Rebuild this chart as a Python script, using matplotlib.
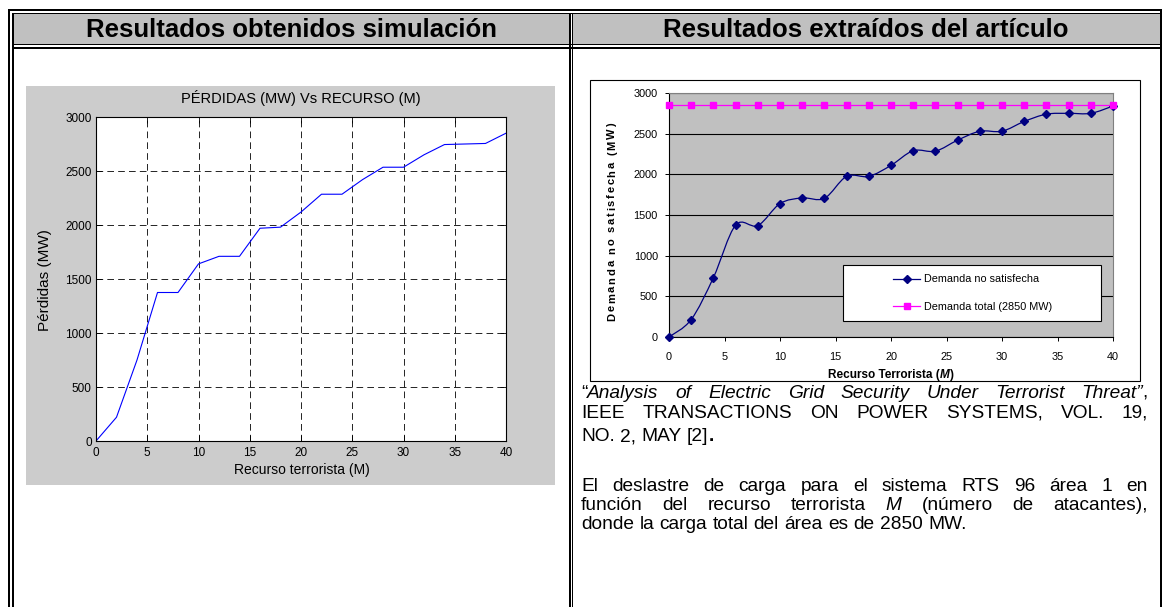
import numpy as np
import matplotlib.pyplot as plt
from matplotlib.patches import Rectangle, PathPatch
from matplotlib.path import Path
from matplotlib.lines import Line2D

plt.rcParams['font.family'] = ['Liberation Sans', 'DejaVu Sans']

W, H = 1162, 607

recurso = np.arange(0, 41, 2)
perdidas_sim = [0, 220, 750, 1375, 1375, 1640, 1710, 1710, 1970, 1980, 2120,
                2285, 2285, 2420, 2535, 2535, 2650, 2745, 2750, 2755, 2850]
demanda_art = [0, 215, 730, 1375, 1370, 1640, 1710, 1705, 1975, 1975, 2110,
               2290, 2285, 2420, 2530, 2530, 2650, 2740, 2750, 2750, 2840]
demanda_total = [2850] * len(recurso)

y_ticks = [0, 500, 1000, 1500, 2000, 2500, 3000]
x_ticks = [0, 5, 10, 15, 20, 25, 30, 35, 40]

fig = plt.figure(figsize=(W / 100, H / 100), dpi=100)
bg = fig.add_axes([0, 0, 1, 1])
bg.set_xlim(0, W)
bg.set_ylim(H, 0)
bg.axis('off')
renderer = fig.canvas.get_renderer()


def rect(ax, x0, y0, x1, y1, color, **kw):
    ax.add_patch(Rectangle((x0, y0), x1 - x0, y1 - y0, facecolor=color,
                           edgecolor='none', **kw))


def px_axes(x0, y0, x1, y1, **kw):
    return fig.add_axes([x0 / W, 1 - y1 / H, (x1 - x0) / W, (y1 - y0) / H], **kw)


def width_of(s, fs, **st):
    t = bg.text(0, 0, s, fontsize=fs, **st)
    w = t.get_window_extent(renderer).width
    t.remove()
    return w


def space_of(fs, **st):
    return width_of('a a', fs, **st) - width_of('aa', fs, **st)


# ---- tabla ----
gris_tabla = '#C0C0C0'
rect(bg, 13, 14, 569, 44, gris_tabla)
rect(bg, 573, 14, 1160, 44, gris_tabla)
rect(bg, 8, 9, 1162, 11, 'black')
rect(bg, 12, 13, 1160, 14, 'black')
rect(bg, 8, 9, 10, H, 'black')
rect(bg, 12, 13, 13.5, H, 'black')
rect(bg, 12, 44, 1160, 45, 'black')
rect(bg, 12, 47, 1162, 49, 'black')
rect(bg, 569, 13, 571, H, 'black')
rect(bg, 572, 13, 573, H, 'black')
rect(bg, 1160, 9, 1162, H, 'black')

bg.text(291, 30, 'Resultados obtenidos simulación', fontsize=18.5,
        fontweight='bold', ha='center', va='center')
bg.text(866, 30, 'Resultados extraídos del artículo', fontsize=18.5,
        fontweight='bold', ha='center', va='center')

# ---- grafica izquierda (estilo MATLAB) ----
rect(bg, 26, 86, 555, 485, '#CCCCCC')
ax1 = px_axes(96, 117, 506, 441)
ax1.plot(recurso, perdidas_sim, color='#0000FF', lw=0.8)
ax1.set_xlim(0, 40)
ax1.set_ylim(0, 3000)
ax1.set_xticks(x_ticks)
ax1.set_yticks(y_ticks)
ax1.tick_params(direction='in', top=True, right=True, length=4, width=0.6,
                labelsize=8.5, pad=3)
ax1.tick_params(axis='x', pad=4)
ax1.grid(True, color='black', lw=0.6, linestyle=(0, (8, 5)))
for s in ax1.spines.values():
    s.set_linewidth(0.8)
bg.text(301, 98, 'PÉRDIDAS (MW) Vs RECURSO (M)', fontsize=10.5,
        ha='center', va='center')
bg.text(302, 470, 'Recurso terrorista (M)', fontsize=10, ha='center', va='center')
bg.text(45, 280, 'Pérdidas (MW)', fontsize=11, ha='center', va='center',
        rotation=90)

# ---- grafica derecha (estilo Excel) ----
bg.add_patch(Rectangle((590, 80), 550, 301, facecolor='white',
                       edgecolor='black', lw=0.8))
ax2 = px_axes(669, 93, 1113, 337)
ax2.set_facecolor('#C0C0C0')
ax2.set_xlim(0, 40)
ax2.set_ylim(0, 3000)
ax2.set_xticks(x_ticks)
ax2.set_yticks(y_ticks)
ax2.tick_params(direction='out', length=3, width=0.7, labelsize=7.8, pad=5)
ax2.tick_params(axis='x', pad=8)
ax2.yaxis.grid(True, color='black', lw=0.8)
ax2.set_axisbelow(True)
ax2.spines['top'].set_color('#808080')
ax2.spines['right'].set_color('#808080')
for s in ax2.spines.values():
    s.set_linewidth(0.8)

# linea suavizada tipo Excel (Catmull-Rom -> Bezier)
pts = np.column_stack([recurso, demanda_art]).astype(float)
verts = [pts[0]]
codes = [Path.MOVETO]
for i in range(len(pts) - 1):
    p0 = pts[i - 1] if i > 0 else pts[i]
    p1 = pts[i]
    p2 = pts[i + 1]
    p3 = pts[i + 2] if i + 2 < len(pts) else pts[i + 1]
    c1 = p1 + (p2 - p0) / 6.0
    c2 = p2 - (p3 - p1) / 6.0
    verts += [c1, c2, p2]
    codes += [Path.CURVE4] * 3
ax2.add_patch(PathPatch(Path(verts, codes), facecolor='none',
                        edgecolor='#000080', lw=0.9, zorder=3))
ax2.plot(recurso, demanda_art, linestyle='none', marker='D', ms=4.5,
         color='#000080', zorder=4, clip_on=False)
ax2.plot(recurso, demanda_total, color='#FF00FF', lw=0.9, marker='s',
         ms=4.5, zorder=4, clip_on=False)


def put_vertical(text, xc, yc, fs, length, **st):
    # texto vertical con espaciado entre letras (como Excel)
    ws = [space_of(fs, **st) if c == ' ' else width_of(c, fs, **st) for c in text]
    track = (length - sum(ws)) / (len(text) - 1)
    y = yc + length / 2
    for c, w in zip(text, ws):
        if c != ' ':
            bg.text(xc, y - w / 2, c, fontsize=fs, rotation=90, ha='center',
                    va='center', **st)
        y -= w + track


put_vertical('Demanda no satisfecha (MW)', 612, 222, 8, 198, fontweight='bold')

top = fig.add_axes([0, 0, 1, 1], zorder=10)
top.set_xlim(0, W)
top.set_ylim(H, 0)
top.axis('off')
top.patch.set_alpha(0)
top.add_patch(Rectangle((843, 265), 258, 56, facecolor='white',
                        edgecolor='black', lw=0.8))
handles = [Line2D([], [], color='#000080', marker='D', ms=4.5, lw=0.9),
           Line2D([], [], color='#FF00FF', marker='s', ms=4.5, lw=0.9)]
top.legend(handles, ['Demanda no satisfecha', 'Demanda total (2850 MW)'],
           loc='center left', bbox_to_anchor=(893, 293),
           bbox_transform=top.transData, frameon=False, fontsize=7.8,
           handlelength=2.5, handletextpad=0.4, labelspacing=1.6,
           borderpad=0, borderaxespad=0)


def put_runs(runs, x, y, fs, ha='left'):
    objs = []
    total = 0
    for s, st in runs:
        t = bg.text(0, y, s, fontsize=fs, va='baseline', ha='left', **st)
        w = t.get_window_extent(renderer).width
        objs.append((t, w))
        total += w
    if ha == 'center':
        x = x - total / 2
    for t, w in objs:
        t.set_x(x)
        x += w
    return total


def put_line(words, y, x0, x1, fs, justify=True):
    widths = []
    objs = []
    for word in words:
        parts = []
        w = 0
        for s, st in word:
            t = bg.text(0, y, s, fontsize=fs, va='baseline', ha='left', **st)
            ww = t.get_window_extent(renderer).width
            parts.append((t, ww))
            w += ww
        objs.append(parts)
        widths.append(w)
    if justify and len(words) > 1:
        gap = (x1 - x0 - sum(widths)) / (len(words) - 1)
    else:
        gap = space_of(fs)
    x = x0
    for parts, w in zip(objs, widths):
        xx = x
        for t, ww in parts:
            t.set_x(xx)
            xx += ww
        x += w + gap


put_runs([('Recurso Terrorista (', {'fontweight': 'bold'}),
          ('M', {'fontweight': 'bold', 'fontstyle': 'italic'}),
          (')', {'fontweight': 'bold'})], 891, 378, 8.5, ha='center')

N = {}
I = {'fontstyle': 'italic'}


def words(text, st=N):
    return [[(w, st)] for w in text.split()]


fs_txt = 13.8
x_l, x_r = 581, 1148
linea1 = ([[('“', N), ('Analysis', I)]] + words('of Electric Grid Security Under Terrorist', I)
          + [[('Threat”', I), (',', N)]])
put_line(linea1, 398, x_l, x_r, fs_txt)
put_line(words('IEEE TRANSACTIONS ON POWER SYSTEMS, VOL. 19,'), 418, x_l, x_r, fs_txt)
put_line(words('NO. 2, MAY') + [[('[2]', N), ('.', {'fontweight': 'bold'})]],
         441, x_l, x_r, fs_txt, justify=False)
put_line(words('El deslastre de carga para el sistema RTS 96 área 1 en'),
         491, x_l, x_r, fs_txt)
put_line(words('función del recurso terrorista') + [[('M', I)]]
         + words('(número de atacantes),'), 510, x_l, x_r, fs_txt)
put_line(words('donde la carga total del área es de 2850 MW.'), 529, x_l, x_r,
         fs_txt, justify=False)

fig.savefig('out.png', dpi=100)
